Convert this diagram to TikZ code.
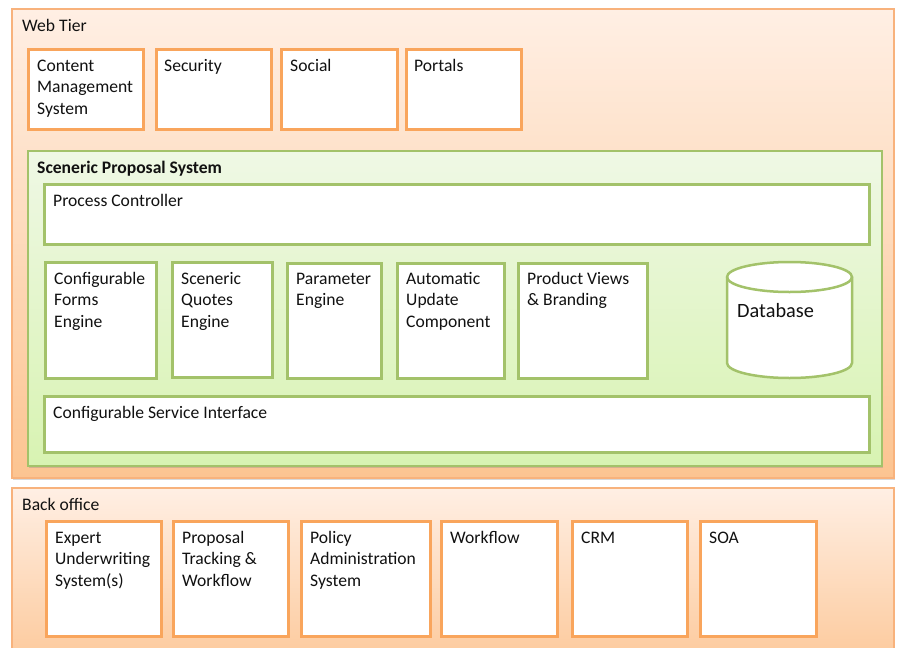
\documentclass[tikz,border=0pt]{standalone}
\usepackage{fontspec}
\setmainfont{Carlito}
\usetikzlibrary{shadows}
\definecolor{orline}{HTML}{F9A55C}
\definecolor{orouter}{HTML}{F8B27C}
\definecolor{ortop}{HTML}{FFEFE4}
\definecolor{orbot}{HTML}{FCC491}
\definecolor{grline}{HTML}{A3C26A}
\definecolor{grtop}{HTML}{EFF8E5}
\definecolor{grbot}{HTML}{D8F3B2}
\definecolor{txt}{HTML}{111111}
\newcommand\mlines[1]{\begin{tabular}[t]{@{}l@{}}#1\end{tabular}}
\begin{document}
\begin{tikzpicture}[x=1pt,y=-1pt,
  tier/.style={draw=orouter,line width=1.5pt,top color=ortop,bottom color=orbot,
    drop shadow={shadow xshift=1.5pt,shadow yshift=-2pt,opacity=0.3}},
  green/.style={draw=grline,line width=1.5pt,top color=grtop,bottom color=grbot,
    drop shadow={shadow xshift=1.5pt,shadow yshift=-2pt,opacity=0.3}},
  obox/.style={draw=orline,line width=2.5pt,fill=white,rectangle,inner sep=0pt,anchor=north west},
  gbox/.style={draw=grline,line width=2.5pt,fill=white,rectangle,inner sep=0pt,anchor=north west},
  lbl/.style={anchor=base west,inner sep=0pt,text=txt,font=\fontsize{17.6pt}{21.5pt}\selectfont},
  blbl/.style={lbl,font=\fontsize{17.6pt}{21.5pt}\selectfont\bfseries},
  dblbl/.style={lbl,font=\fontsize{20.3pt}{24pt}\selectfont}
]
\useasboundingbox (0,0) rectangle (898,648);
\fill[white] (0,0) rectangle (898,648);

% Web tier
\node[tier,rectangle,inner sep=0pt,anchor=north west,minimum width=882pt,minimum height=469pt] (web) at (11,8) {};
\node[lbl] (webT) at ([xshift=11pt,yshift=-23pt]web.north west) {Web Tier};

\node[obox,minimum width=115pt,minimum height=80pt] (cms) at (27,48) {};
\node[obox,minimum width=115pt,minimum height=80pt] (sec) at (155,48) {};
\node[obox,minimum width=116pt,minimum height=80pt] (soc) at (280,48) {};
\node[obox,minimum width=115pt,minimum height=80pt] (por) at (405,48) {};
\node[lbl] (cmsT) at ([xshift=10pt,yshift=-23pt]cms.north west) {\mlines{Content\\Management\\System}};
\node[lbl] (secT) at ([xshift=9pt,yshift=-23pt]sec.north west) {Security};
\node[lbl] (socT) at ([xshift=10pt,yshift=-23pt]soc.north west) {Social};
\node[lbl] (porT) at ([xshift=9pt,yshift=-23pt]por.north west) {Portals};

% Sceneric proposal system
\node[green,rectangle,inner sep=0pt,anchor=north west,minimum width=854pt,minimum height=315pt] (sps) at (27,150) {};
\node[blbl] (spsT) at ([xshift=10pt,yshift=-23pt]sps.north west) {Sceneric Proposal System};

\node[gbox,minimum width=825pt,minimum height=60pt] (pc) at (43,183) {};
\node[lbl] (pcT) at ([xshift=10pt,yshift=-23pt]pc.north west) {Process Controller};

\node[gbox,minimum width=111pt,minimum height=116pt] (cfe) at (44,261) {};
\node[gbox,minimum width=100pt,minimum height=115pt] (sqe) at (171,261) {};
\node[gbox,minimum width=94pt,minimum height=115pt] (pe) at (286,262) {};
\node[gbox,minimum width=107pt,minimum height=115pt] (auc) at (396,262) {};
\node[gbox,minimum width=129pt,minimum height=115pt] (pvb) at (517,262) {};
\node[lbl] (cfeT) at ([xshift=10pt,yshift=-23pt]cfe.north west) {\mlines{Configurable\\Forms\\Engine}};
\node[lbl] (sqeT) at ([xshift=10pt,yshift=-23pt]sqe.north west) {\mlines{Sceneric\\Quotes\\Engine}};
\node[lbl] (peT) at ([xshift=10pt,yshift=-22pt]pe.north west) {\mlines{Parameter\\Engine}};
\node[lbl] (aucT) at ([xshift=10pt,yshift=-22pt]auc.north west) {\mlines{Automatic\\Update\\Component}};
\node[lbl] (pvbT) at ([xshift=10pt,yshift=-22pt]pvb.north west) {\mlines{Product Views\\\& Branding}};

% Database cylinder
\filldraw[draw=grline,line width=2.5pt,fill=white]
  (727,277) -- (727,363) arc[start angle=180,end angle=360,x radius=62.5pt,y radius=15pt]
  -- (852,277) arc[start angle=0,end angle=180,x radius=62.5pt,y radius=15pt] -- cycle;
\draw[grline,line width=2.5pt] (727,277) arc[start angle=180,end angle=360,x radius=62.5pt,y radius=15pt];
\node[dblbl] (db) at (737,317) {Database};

\node[gbox,minimum width=825pt,minimum height=56pt] (csi) at (43,395) {};
\node[lbl] (csiT) at ([xshift=10pt,yshift=-23pt]csi.north west) {Configurable Service Interface};

% Back office
\node[tier,rectangle,inner sep=0pt,anchor=north west,minimum width=882pt,minimum height=200pt] (bo) at (11,487) {};
\node[lbl] (boT) at ([xshift=11pt,yshift=-23pt]bo.north west) {Back office};

\node[obox,minimum width=115pt,minimum height=115pt] (eus) at (45,520) {};
\node[obox,minimum width=115pt,minimum height=115pt] (ptw) at (172,520) {};
\node[obox,minimum width=129pt,minimum height=115pt] (pas) at (300,520) {};
\node[obox,minimum width=116pt,minimum height=115pt] (wf) at (440,520) {};
\node[obox,minimum width=115pt,minimum height=115pt] (crm) at (571,520) {};
\node[obox,minimum width=116pt,minimum height=115pt] (soa) at (699,520) {};
\node[lbl] (eusT) at ([xshift=10pt,yshift=-23pt]eus.north west) {\mlines{Expert\\Underwriting\\System(s)}};
\node[lbl] (ptwT) at ([xshift=10pt,yshift=-23pt]ptw.north west) {\mlines{Proposal\\Tracking \&\\Workflow}};
\node[lbl] (pasT) at ([xshift=10pt,yshift=-23pt]pas.north west) {\mlines{Policy\\Administration\\System}};
\node[lbl] (wfT) at ([xshift=10pt,yshift=-23pt]wf.north west) {Workflow};
\node[lbl] (crmT) at ([xshift=10pt,yshift=-23pt]crm.north west) {CRM};
\node[lbl] (soaT) at ([xshift=10pt,yshift=-23pt]soa.north west) {SOA};
\end{tikzpicture}
\end{document}
